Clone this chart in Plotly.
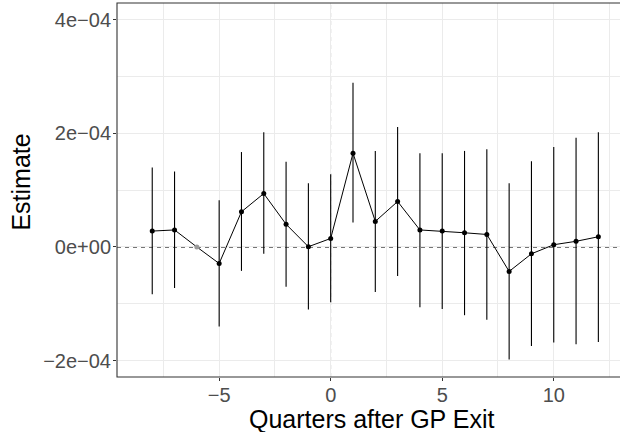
import plotly.graph_objects as go

# Event-study estimates by quarter relative to GP exit (quarter -6 is the reference period)
quarters = [-8, -7, -6, -5, -4, -3, -2, -1, 0, 1, 2, 3, 4, 5, 6, 7, 8, 9, 10, 11, 12]
estimate = [2.8e-5, 3.0e-5, 0.0, -2.9e-5, 6.2e-5, 9.4e-5, 4.0e-5, 0.5e-6, 1.5e-5, 1.65e-4,
            4.5e-5, 8.0e-5, 3.0e-5, 2.8e-5, 2.5e-5, 2.2e-5, -4.3e-5, -1.2e-5, 4.0e-6, 1.0e-5, 1.8e-5]
ci_high = [1.40e-4, 1.33e-4, None, 8.2e-5, 1.67e-4, 2.02e-4, 1.50e-4, 1.12e-4, 1.28e-4, 2.89e-4,
           1.69e-4, 2.11e-4, 1.65e-4, 1.65e-4, 1.69e-4, 1.72e-4, 1.12e-4, 1.51e-4, 1.76e-4, 1.92e-4, 2.02e-4]
ci_low = [-8.3e-5, -7.2e-5, None, -1.40e-4, -4.2e-5, -1.2e-5, -7.0e-5, -1.10e-4, -9.7e-5, 4.3e-5,
          -7.9e-5, -5.1e-5, -1.06e-4, -1.09e-4, -1.20e-4, -1.28e-4, -1.98e-4, -1.74e-4, -1.68e-4, -1.71e-4, -1.67e-4]
reference_quarter = -6

x_ticks = [-5, 0, 5, 10]
x_tick_text = ["\u22125", "0", "5", "10"]
y_ticks = [-2e-4, 0.0, 2e-4, 4e-4]
y_tick_text = ["\u22122e\u221204", "0e+00", "2e\u221204", "4e\u221204"]

FONT = "Liberation Sans, Arial, Helvetica, sans-serif"
GRID = "#EBEBEB"
BORDER = "#333333"

est_x = [q for q in quarters if q != reference_quarter]
est_y = [e for q, e in zip(quarters, estimate) if q != reference_quarter]
err_plus = [h - e for q, e, h in zip(quarters, estimate, ci_high) if q != reference_quarter]
err_minus = [e - lo for q, e, lo in zip(quarters, estimate, ci_low) if q != reference_quarter]
ref_y = [e for q, e in zip(quarters, estimate) if q == reference_quarter]

fig = go.Figure()

# connecting line through every quarter
fig.add_trace(go.Scatter(
    x=quarters, y=estimate, mode="lines",
    line=dict(color="black", width=1), hoverinfo="skip", showlegend=False,
))
# point estimates with confidence intervals
fig.add_trace(go.Scatter(
    x=est_x, y=est_y, mode="markers",
    marker=dict(color="black", size=5),
    error_y=dict(type="data", symmetric=False, array=err_plus, arrayminus=err_minus,
                 color="black", thickness=1.1, width=0),
    showlegend=False,
))
# omitted reference quarter
fig.add_trace(go.Scatter(
    x=[reference_quarter], y=ref_y, mode="markers",
    marker=dict(color="#9A9A9A", size=5), showlegend=False,
))

# reference lines
fig.add_shape(type="line", xref="x", yref="paper", x0=0, x1=0, y0=0, y1=1,
              line=dict(color="#B8B8B8", width=1, dash="4px,4px"), layer="between")
fig.add_shape(type="line", xref="paper", yref="y", x0=0, x1=1, y0=0, y1=0,
              line=dict(color="#4A4A4A", width=1.3, dash="4px,4px"), layer="between")

# panel border (right side runs past the canvas edge)
fig.add_shape(type="rect", xref="paper", yref="paper", x0=0, x1=1.05, y0=0, y1=1,
              line=dict(color=BORDER, width=1.1), fillcolor="rgba(0,0,0,0)", layer="above")

fig.update_xaxes(
    range=[-9.58, 12.97], tickvals=x_ticks, ticktext=x_tick_text,
    showgrid=True, gridcolor=GRID, gridwidth=1, zeroline=False, showline=False,
    ticks="outside", ticklen=3, tickwidth=1, tickcolor=BORDER, ticklabelstandoff=-3,
    tickfont=dict(family=FONT, size=20, color="#4D4D4D"),
    minor=dict(tickvals=[-7.5, -2.5, 2.5, 7.5, 12.5], showgrid=True, gridcolor=GRID, gridwidth=0.6),
)
fig.update_yaxes(
    range=[-2.287e-4, 4.292e-4], tickvals=y_ticks, ticktext=y_tick_text,
    showgrid=True, gridcolor=GRID, gridwidth=1, zeroline=False, showline=False,
    ticks="outside", ticklen=3, tickwidth=1, tickcolor=BORDER, ticklabelstandoff=-2,
    tickfont=dict(family=FONT, size=20, color="#4D4D4D"),
    minor=dict(tickvals=[-1e-4, 1e-4, 3e-4], showgrid=True, gridcolor=GRID, gridwidth=0.6),
)

fig.add_annotation(text="Quarters after GP Exit", xref="paper", yref="paper",
                   x=0.507, y=-0.111, xanchor="center", yanchor="middle", showarrow=False,
                   font=dict(family=FONT, size=25, color="black"))
fig.add_annotation(text="Estimate", xref="paper", yref="paper", textangle=-90,
                   x=-0.19, y=0.521, xanchor="center", yanchor="middle", showarrow=False,
                   font=dict(family=FONT, size=25, color="black"))

fig.update_layout(
    width=620, height=432,
    margin=dict(l=117, r=0, t=3, b=55),
    paper_bgcolor="white", plot_bgcolor="white",
    showlegend=False,
)

fig.write_html("out.html")
